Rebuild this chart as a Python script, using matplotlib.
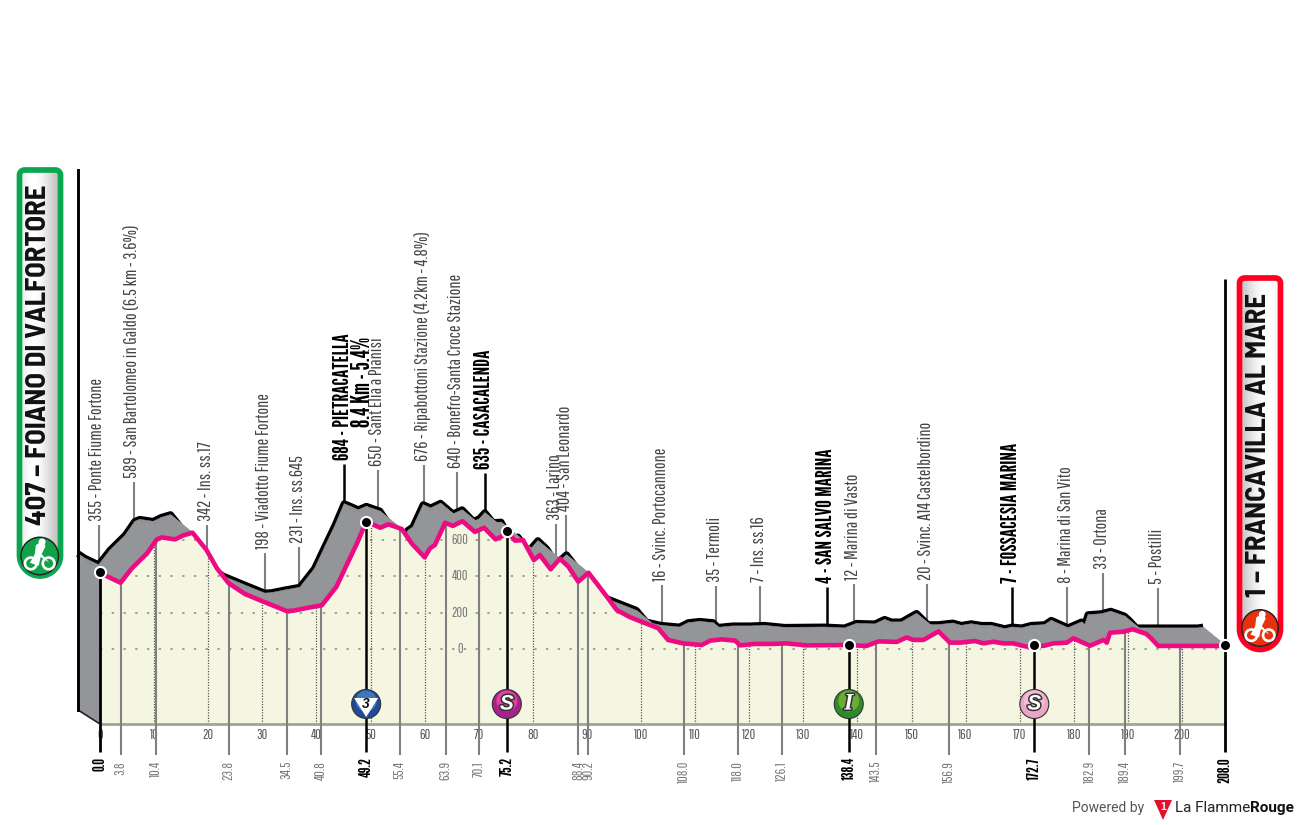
import numpy as np
import matplotlib
matplotlib.use("Agg")
import matplotlib.pyplot as plt
from matplotlib.patches import Polygon, Circle
import matplotlib.patheffects as pe
import logging
logging.getLogger("matplotlib.font_manager").setLevel(logging.ERROR)

# ---------- data ----------
route_km = [0, 1.2, 3.8, 5.9, 8.7, 10.5, 11.4, 13.9, 15.4, 17.1, 19.7, 21.6, 23.8, 26.8, 30.2, 34.5, 35.7, 38.2,
            41, 43.7, 45.6, 47.5, 49.2, 50.2, 51.8, 53.3, 55.8, 57.6, 60, 61, 61.9, 63.8, 65.2, 67, 69.3, 71,
            73.1, 74.2, 75.2, 76.7, 78.2, 80.2, 81.3, 83.3, 85, 86.6, 88.4, 90.3, 91.8, 93.7, 95.5, 98, 103.2,
            105, 107.8, 111.2, 112.8, 114.9, 117.4, 118.3, 121, 124.2, 126.9, 130.6, 138, 141.7, 143.9, 147.3,
            149.1, 150.3, 152.2, 155, 157.1, 159, 161.7, 163.3, 165.1, 167, 168.8, 171.3, 172.7, 174.4, 176.2,
            178.7, 179.9, 183, 185.5, 186.1, 186.7, 189.1, 190.9, 193.4, 194.3, 195.6, 207, 208]
route_elev = [426, 402, 365, 445, 527, 604, 615, 604, 626, 641, 545, 445, 362, 303, 261, 209, 211, 226,
              241, 343, 463, 582, 701, 689, 668, 687, 661, 582, 505, 555, 573, 696, 678, 704, 645, 668,
              604, 619, 652, 597, 600, 490, 518, 439, 498, 453, 371, 420, 362, 288, 215, 175, 114,
              50, 31, 22, 46, 53, 46, 20, 28, 28, 31, 20, 22, 17, 42, 39,
              64, 50, 50, 97, 35, 35, 44, 31, 40, 31, 31, 13, 22, 17, 31,
              35, 59, 18, 50, 35, 90, 95, 109, 83, 59, 17, 17, 22]

way_km = [3.8, 10.4, 23.8, 34.5, 40.8, 49.2, 55.4, 63.9, 70.1, 75.2, 88.4, 90.2, 108.0, 118.0, 126.1, 138.4, 143.5,
          156.9, 172.7, 182.9, 189.4, 199.7]
way_dist = ["3.8", "10.4", "23.8", "34.5", "40.8", "49.2", "55.4", "63.9", "70.1", "75.2", "88.4", "90.2", "108.0",
            "118.0", "126.1", "138.4", "143.5", "156.9", "172.7", "182.9", "189.4", "199.7"]
way_name = ["355 - Ponte Fiume Fortone", "589 - San Bartolomeo in Galdo (6.5 km - 3.6%)", "342 - Ins. ss.17",
            "198 - Viadotto Fiume Fortone", "231 - Ins. ss.645", "684 - PIETRACATELLA", "650 - Sant Elia a Pianisi",
            "676 - Ripabottoni Stazione (4.2km - 4.8%)", "640 - Bonefro-Santa Croce Stazione", "635 - CASACALENDA",
            "363 - Larino", "404 - San Leonardo", "16 - Svinc. Portocannone", "35 - Termoli", "7 - Ins. ss.16",
            "4 - SAN SALVO MARINA", "12 - Marina di Vasto", "20 - Svinc. A14 Castelbordino",
            "7 - FOSSACESIA MARINA", "8 - Marina di San Vito", "33 - Ortona", "5 - Postilli"]
way_major = [False, False, False, False, False, True, False, False, False, True, False, False, False, False, False,
             True, False, False, True, False, False, False]
sprint_km = [49.2, 75.2, 138.4, 172.7]
km_ticks = list(range(0, 201, 10))
elev_ticks = [0, 200, 400, 600]
start_label = "407 \u2013 FOIANO DI VALFORTORE"
finish_label = "1 \u2013 FRANCAVILLA AL MARE"
climb_note = "8.4 Km - 5.4%"

# ---------- scales ----------
PX_KM = 5.41
PX_M = 0.1815
def X(km): return 100 + PX_KM * np.asarray(km, float)
def E(py): return (649 - py) / PX_M   # pixel row -> elevation
SHIFT_KM, SHIFT_M = -22 / PX_KM, 18 / PX_M
BASE = E(724)
THIN = ["Pathway Gothic One", "Barlow Condensed", "Liberation Sans"]
HEAVY = ["League Gothic", "Barlow Condensed", "Liberation Sans"]
ARIAL = ["Barlow Semi Condensed", "Liberation Sans"]
SANS = ["Liberation Sans"]
PINK, GREY, CREAM = "#ee0a82", "#939598", "#f5f6e2"

fig = plt.figure(figsize=(13, 8.25), dpi=100, facecolor="white")
axp = fig.add_axes([0, 0, 1, 1]); axp.set_xlim(0, 1300); axp.set_ylim(825, 0); axp.axis("off")
ax = fig.add_axes([0, 0, 1, 1]); ax.patch.set_alpha(0); ax.axis("off")
ax.set_xlim(-100 / PX_KM, 1200 / PX_KM); ax.set_ylim(E(825), E(0))

km = np.array(route_km); el = np.array(route_elev)
def at(k): return float(np.interp(k, km, el))

# back black edge, grey sweep, cream front
ax.plot(km + SHIFT_KM, el + SHIFT_M, color="black", lw=5.0, zorder=2, solid_joinstyle="round", solid_capstyle="butt")
for i in range(len(km) - 1):
    ax.fill([km[i], km[i + 1], km[i + 1] + SHIFT_KM, km[i] + SHIFT_KM],
            [el[i], el[i + 1], el[i + 1] + SHIFT_M, el[i] + SHIFT_M], color=GREY, lw=0.4, zorder=3)
ax.fill([km[0], km[0], km[0] + SHIFT_KM, km[0] + SHIFT_KM],
        [el[0], BASE, E(710), el[0] + SHIFT_M], color=GREY, lw=0, zorder=3)
ax.plot([km[0] + SHIFT_KM, km[0]], [E(710), BASE], color="#222222", lw=1.2, zorder=3.5)
ax.plot([km[0] + SHIFT_KM] * 2, [E(710), E(170)], color="black", lw=2.1, zorder=3.5)
cream = ax.fill(np.r_[km, km[-1], km[0]], np.r_[el, BASE, BASE], color=CREAM, lw=0, zorder=4)[0]

# grid, clipped to the front face
for e in elev_ticks:
    l, = ax.plot([0, 208], [e, e], color="#9c9c84", lw=1.3, ls=(0, (1.3, 5.2)), zorder=5)
    l.set_clip_path(cream)
for k in km_ticks[1:]:
    l, = ax.plot([k, k], [BASE, 900], color="#555555", lw=0.9, ls=(0, (1, 1.2)), zorder=5)
    l.set_clip_path(cream)
ax.plot([0, 208], [BASE, BASE], color="#a3a392", lw=2.0, zorder=5.5)
for e in elev_ticks:
    ax.text(66.5, e, str(e), family=THIN, fontsize=10, color="#777777", ha="center", va="center", zorder=5.6,
            bbox=dict(fc=CREAM, ec="none", pad=0.6))
for k in km_ticks:
    ax.text(k, E(735), str(k), family=THIN, fontsize=10, color="#555555", ha="center", va="center", zorder=5.6)

# waypoints
for k, d, n, m in zip(way_km, way_dist, way_name, way_major):
    c = "black" if m else "#808080"
    lw = 1.8 if m else 1.5
    bottom = E(752) if m else E(755)
    ax.plot([k, k], [at(k), bottom], color=c, lw=lw, zorder=6, solid_capstyle="butt")
    ax.text(k, E(757 if m else 761), d, rotation=90, family=HEAVY if m else THIN, fontsize=12 if m else 10,
            color="black" if m else "#777777", ha="center", va="top", zorder=6)
    top = at(k) + SHIFT_M
    ax.plot([k + SHIFT_KM] * 2, [top, top + 40 / PX_M], color=c, lw=lw, zorder=1, solid_capstyle="butt")
    ax.text(k + SHIFT_KM - 0.2, top + 44 / PX_M, n, rotation=90, family=HEAVY if m else THIN,
            fontsize=15.5 if m else 13, color="black" if m else "#444444", ha="center", va="bottom", zorder=6)
ax.text(48.7, E(427), climb_note, rotation=90, family=HEAVY, fontsize=17.5, color="black",
        ha="center", va="bottom", zorder=6)

# start / finish verticals
ax.plot([0, 0], [at(0), E(752)], color="black", lw=2.0, zorder=6.5, solid_capstyle="butt")
ax.plot([208, 208], [E(279), E(752)], color="black", lw=2.0, zorder=6.5, solid_capstyle="butt")
for txt, k in (("0.0", 0), ("208.0", 208)):
    ax.text(k, E(757), txt, rotation=90, family=HEAVY, fontsize=12, color="black", ha="center", va="top", zorder=6)

# route line + dots
ax.plot(km, el, color=PINK, lw=3.3, zorder=7, solid_joinstyle="round", solid_capstyle="butt")
for k in [0] + sprint_km + [208]:
    ax.plot([k], [at(k)], "o", ms=8, mfc="black", mec="white", mew=1.5, zorder=9)

# ---------- decorations in pixel space ----------
def pill(x0, x1, y0, y1, r_top):
    r = (x1 - x0) / 2
    t1 = np.linspace(np.pi, 1.5 * np.pi, 8); t2 = np.linspace(1.5 * np.pi, 2 * np.pi, 8)
    t3 = np.linspace(0, np.pi, 30)
    xs = np.r_[x0 + r_top + r_top * np.cos(t1), x1 - r_top + r_top * np.cos(t2), x0 + r + r * np.cos(t3)]
    ys = np.r_[y0 + r_top + r_top * np.sin(t1), y0 + r_top + r_top * np.sin(t2), y1 - r + r * np.sin(t3)]
    return np.c_[xs, ys]

def badge(x0, x1, y0, y1, color, grad):
    shape = Polygon(pill(x0, x1, y0, y1, 5), closed=True, fc="none", ec="none", transform=axp.transData)
    axp.add_patch(shape)
    im = axp.imshow(np.array([grad]), cmap="gray", vmin=0, vmax=1, extent=(x0, x1, y1, y0), aspect="auto",
                    zorder=2, interpolation="bilinear")
    im.set_clip_path(shape)
    axp.add_patch(Polygon(pill(x0, x1, y0, y1, 5), closed=True, fc="none", ec=color, lw=4.1, zorder=3))

def bike(cx, cy, r, bg):
    axp.add_patch(Circle((cx, cy), r, fc="#222222", ec="none", zorder=4))
    axp.add_patch(Circle((cx, cy), r - 1.5, fc=bg, ec="none", zorder=4.1))
    for s in (-1, 1):
        axp.add_patch(Circle((cx + s * 0.46 * r, cy + 0.38 * r), 0.3 * r, fc="none", ec="white", lw=1.9, zorder=4.3))
    axp.add_patch(Polygon([(cx - .5 * r, cy + .35 * r), (cx - .25 * r, cy - .1 * r), (cx - .2 * r, cy - .55 * r),
                           (cx + .15 * r, cy - .8 * r), (cx + .3 * r, cy - .5 * r), (cx + .1 * r, cy - .1 * r),
                           (cx + .5 * r, cy + .35 * r), (cx + .05 * r, cy + .05 * r), (cx - .05 * r, cy + .5 * r)],
                          closed=True, fc="white", ec="none", zorder=4.3))
    axp.add_patch(Circle((cx + .12 * r, cy - .72 * r), .18 * r, fc="white", ec="none", zorder=4.3))

badge(19.5, 60.5, 170, 576, "#0aa650", [0.93, 0.98, 1, 0.97, 0.9, 0.82, 0.75])
badge(1239.5, 1280.5, 278, 649.5, "#ff0022", [0.78, 0.86, 0.93, 0.98, 1, 1, 0.95])
axp.text(38.5, 525, start_label, rotation=90, family=ARIAL, fontsize=20.7, fontweight="bold", color="#111111",
         ha="center", va="bottom", zorder=5)
axp.text(1259, 597, finish_label, rotation=90, family=ARIAL, fontsize=20.7, fontweight="bold", color="#111111",
         ha="center", va="bottom", zorder=5)
bike(39.7, 556, 19.5, "#12a24a")
bike(1260, 628, 19, "#e8320f")

# sprint badges
ICON_Y = 704
def ball(k, outer, inner):
    x = float(X(k))
    axp.add_patch(Circle((x, ICON_Y), 14.5, fc=outer, ec="#333333", lw=0.8, zorder=8))
    axp.add_patch(Circle((x, ICON_Y - 3), 10.5, fc=inner, ec="none", zorder=8))
    return x
ax.set_zorder(1); axp.set_zorder(2); axp.patch.set_alpha(0)
xk = ball(sprint_km[0], "#1f4a98", "#3d78b8")
axp.add_patch(Polygon([(xk - 12, ICON_Y - 6), (xk + 12, ICON_Y - 6), (xk, ICON_Y + 13)], closed=True,
                      fc="white", ec="none", zorder=8.2))
axp.text(xk, ICON_Y + 0.5, "3", family=SANS, fontsize=10, fontweight="bold", style="italic", color="#111111",
         ha="center", va="center", zorder=8.5)
halo = [pe.withStroke(linewidth=2.2, foreground="#333333")]
xs1 = ball(sprint_km[1], "#a8208c", "#e2409f")
axp.text(xs1, ICON_Y, "S", family=SANS, fontsize=15, fontweight="bold", style="italic", color="white",
         ha="center", va="center", zorder=8.5, path_effects=halo)
xi = ball(sprint_km[2], "#2e8b2a", "#6eab34")
axp.text(xi, ICON_Y, "I", family="Liberation Serif", fontsize=17, fontweight="bold", style="italic", color="white",
         ha="center", va="center", zorder=8.5, path_effects=halo)
xs2 = ball(sprint_km[3], "#eaa6c4", "#f3bdd4")
axp.text(xs2, ICON_Y, "S", family=SANS, fontsize=15, fontweight="bold", style="italic", color="white",
         ha="center", va="center", zorder=8.5, path_effects=halo)

# footer
axp.text(1072, 808, "Powered by", family="Roboto", fontsize=10, color="#555555", ha="left", va="center")
axp.add_patch(Polygon([(1154, 800), (1172, 800), (1163, 820)], closed=True, fc="#e30f2d", ec="none"))
axp.text(1163, 806.5, "1", family=SANS, fontsize=7.5, fontweight="bold", color="white", ha="center", va="center")
t = axp.text(1175, 808, "La Flamme", family="Roboto", fontsize=11, color="#222222", ha="left", va="center")
axp.annotate("Rouge", xy=(1, 0.5), xycoords=t, xytext=(0, 0), textcoords="offset points", family="Roboto",
             fontsize=11, fontweight="bold", color="#111111", ha="left", va="center")

fig.savefig("out.png", dpi=100)
